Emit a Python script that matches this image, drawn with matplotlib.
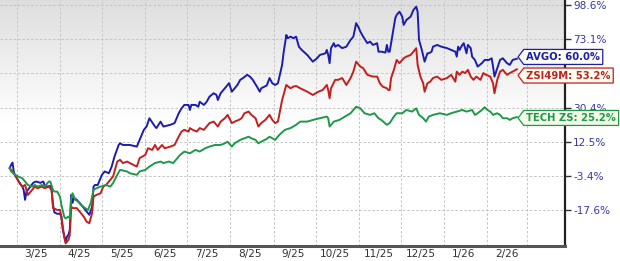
import numpy as np
import pandas as pd
import matplotlib
matplotlib.use("Agg")
import matplotlib.pyplot as plt
from matplotlib.path import Path

# ---------------- data ----------------
start_date = "2025-02-24"

avgo_days = [0, 1, 2, 3, 5, 7, 9, 10, 11, 12, 13, 16, 17, 19, 22, 24, 25, 27, 29, 30,
             31, 32, 34, 36, 37, 38, 40, 41, 42, 43, 44, 45, 46, 48, 50, 53, 55, 57, 59, 60,
             61, 63, 66, 68, 71, 73, 75, 78, 79, 81, 86, 91, 96, 98, 100, 104, 105, 108, 110, 115,
             118, 121, 123, 125, 128, 129, 130, 133, 135, 136, 139, 141, 143, 146, 148, 149, 151, 153, 155, 157,
             159, 161, 163, 165, 167, 170, 172, 174, 177, 179, 180, 184, 186, 188, 190, 192, 195, 196, 198, 199,
             201, 203, 205, 207, 209, 213, 215, 217, 220, 222, 226, 227, 228, 229, 230, 232, 233, 235, 238, 241,
             244, 246, 248, 250, 251, 253, 256, 258, 260, 263, 264, 266, 269, 270, 271, 272, 275, 276, 277, 279,
             281, 282, 284, 287, 289, 291, 292, 293, 295, 297, 299, 300, 302, 303, 306, 309, 313, 316, 319, 320,
             321, 322, 324, 325, 327, 328, 330, 331, 333, 335, 338, 340, 343, 345, 346, 347, 349, 351, 353, 356,
             358, 360, 363]
avgo_pct = [0.0, 1.5, 2.5, -2.1, -4.3, -6.5, -8.1, -9.5, -13.6, -10.2, -9.5, -7.1, -6.4, -5.9, -6.5, -5.9, -7.4, -8.1, -7.8, -9.5,
            -15.6, -18.6, -19.1, -19.1, -20.3, -25.2, -29.4, -27.6, -27.0, -25.2, -11.6, -14.8, -12.8, -13.6, -14.8, -16.8, -18.2, -19.5, -16.3, -8.1,
            -7.4, -7.4, -3.0, -1.5, -2.3, 0.7, 5.3, 10.9, 11.7, 10.9, 10.9, 10.1, 18.5, 20.2, 24.6, 20.2, 19.4, 22.8, 20.2, 21.1,
            22.0, 27.3, 30.0, 31.9, 31.9, 29.1, 31.9, 31.9, 30.9, 33.7, 31.9, 33.7, 36.6, 38.6, 37.6, 34.7, 38.6, 40.5, 42.5, 44.6,
            39.5, 41.5, 43.5, 46.6, 47.7, 49.7, 48.6, 46.6, 42.5, 39.5, 41.5, 43.2, 47.7, 44.5, 43.5, 44.5, 56.0, 63.6, 76.3, 74.0,
            75.1, 74.0, 75.1, 68.1, 65.9, 62.5, 60.3, 58.1, 60.3, 62.5, 63.6, 65.9, 62.5, 57.1, 67.1, 70.5, 68.1, 69.3, 67.1, 68.1,
            72.8, 75.1, 84.9, 81.2, 78.7, 75.1, 70.5, 71.6, 69.3, 70.5, 64.7, 64.7, 64.1, 69.3, 64.7, 64.7, 82.4, 88.6, 91.1, 93.6,
            89.8, 83.6, 87.3, 89.8, 94.9, 97.5, 93.6, 72.8, 65.9, 58.1, 63.6, 63.6, 64.7, 68.1, 69.3, 68.1, 67.1, 65.9, 64.7, 61.4,
            68.1, 65.9, 69.3, 70.5, 63.6, 69.3, 67.1, 61.4, 59.2, 54.9, 57.1, 59.2, 59.2, 60.3, 54.9, 48.6, 53.9, 59.2, 60.3, 57.1,
            56.0, 59.2, 60.0]

zsi_days = [0, 1, 4, 6, 9, 11, 12, 13, 14, 16, 18, 20, 23, 25, 28, 30, 31, 34, 36, 37,
            39, 40, 42, 43, 44, 45, 48, 50, 53, 55, 57, 59, 60, 62, 65, 67, 69, 72, 74, 77,
            79, 81, 84, 86, 91, 93, 97, 99, 102, 104, 106, 109, 111, 115, 118, 121, 123, 125, 128, 129,
            131, 134, 136, 139, 141, 143, 146, 148, 149, 151, 154, 156, 159, 161, 164, 166, 168, 171, 173, 176,
            178, 180, 183, 186, 188, 190, 192, 195, 197, 198, 201, 203, 205, 208, 213, 217, 221, 224, 227, 228,
            229, 230, 233, 235, 238, 241, 244, 246, 248, 251, 253, 256, 260, 263, 265, 267, 270, 271, 272, 273,
            275, 277, 279, 282, 284, 287, 289, 291, 292, 294, 296, 297, 299, 301, 303, 306, 309, 313, 316, 319,
            320, 322, 324, 326, 328, 330, 332, 334, 337, 339, 341, 344, 346, 347, 349, 351, 353, 356, 358, 360,
            363]
zsi_pct = [0.0, -0.8, -3.4, -5.5, -8.1, -7.4, -9.5, -11.6, -10.9, -9.5, -8.1, -8.8, -8.1, -8.8, -8.1, -9.5, -16.9, -17.6, -17.6, -20.2,
           -27.6, -30.0, -28.8, -27.0, -16.3, -16.9, -16.9, -18.2, -20.2, -22.1, -22.7, -18.8, -12.3, -11.6, -10.9, -8.1, -7.4, -5.2, -3.7, 3.0,
           3.8, 2.3, 3.0, 2.3, 0.7, 4.6, 6.1, 9.3, 8.5, 10.9, 8.5, 10.9, 9.3, 10.1, 10.9, 15.1, 17.6, 18.5, 17.6, 19.4,
           18.5, 17.6, 19.4, 18.5, 20.2, 22.0, 22.8, 21.1, 20.2, 22.8, 24.6, 26.4, 22.0, 22.8, 23.7, 24.6, 27.3, 28.2, 26.4, 24.6,
           20.2, 22.0, 23.7, 26.4, 23.7, 22.0, 22.8, 34.7, 40.5, 43.5, 41.5, 42.5, 42.9, 41.5, 39.5, 37.6, 39.5, 40.5, 43.5, 40.5,
           35.7, 41.5, 46.6, 46.6, 47.7, 43.5, 47.7, 51.7, 58.1, 54.9, 53.9, 49.7, 48.6, 48.6, 44.5, 42.5, 41.5, 40.5, 40.5, 47.7,
           52.8, 59.2, 57.1, 60.3, 61.4, 62.5, 64.7, 67.1, 56.0, 48.6, 44.5, 39.5, 44.5, 45.5, 47.7, 48.6, 46.6, 47.7, 49.7, 45.5,
           51.7, 49.7, 51.7, 50.8, 52.8, 48.6, 46.6, 48.6, 46.6, 50.8, 49.7, 48.6, 44.5, 38.6, 46.6, 51.7, 52.8, 49.7, 50.8, 51.7,
           53.2]

tech_days = [0, 1, 4, 6, 9, 10, 13, 16, 18, 20, 23, 25, 28, 29, 31, 32, 34, 36, 37, 39,
             40, 42, 43, 44, 45, 47, 49, 51, 54, 56, 58, 60, 62, 65, 69, 72, 74, 77, 79, 84,
             86, 91, 93, 97, 100, 104, 108, 110, 114, 117, 122, 125, 129, 133, 136, 140, 143, 147, 151, 154,
             156, 159, 161, 165, 168, 171, 173, 176, 178, 180, 184, 186, 190, 193, 197, 201, 205, 208, 213, 217,
             222, 227, 228, 229, 232, 236, 240, 244, 246, 248, 251, 254, 258, 261, 264, 266, 270, 272, 275, 277,
             281, 284, 288, 291, 293, 296, 298, 300, 303, 308, 313, 316, 320, 324, 327, 331, 333, 335, 338, 340,
             342, 344, 346, 349, 351, 353, 356, 358, 360, 363]
tech_pct = [0.0, -1.5, -3.0, -3.7, -4.5, -5.2, -7.4, -8.1, -7.4, -8.1, -7.4, -8.1, -5.9, -5.9, -9.5, -10.2, -10.2, -12.3, -15.6, -20.2,
            -20.9, -20.2, -20.9, -12.9, -10.9, -13.6, -14.3, -15.6, -16.9, -17.6, -14.9, -9.5, -8.8, -8.1, -7.4, -8.1, -6.6, -3.0, -0.8, -1.5,
            -2.3, -3.0, -1.5, -0.8, 0.7, 2.3, 3.0, 2.3, 3.0, 2.3, 6.1, 7.7, 6.9, 8.5, 7.7, 9.3, 10.1, 10.9, 10.9, 11.7,
            12.5, 10.1, 11.7, 13.4, 14.2, 15.0, 14.2, 13.4, 11.7, 12.5, 13.9, 15.0, 13.4, 15.9, 18.5, 19.4, 21.1, 22.8, 22.8, 23.7,
            24.6, 25.5, 24.6, 20.2, 22.8, 23.7, 25.5, 27.3, 29.1, 30.9, 30.0, 27.3, 26.4, 27.3, 24.6, 23.7, 21.1, 22.0, 25.5, 27.3,
            27.3, 29.1, 28.2, 30.0, 26.4, 24.6, 22.8, 25.5, 26.4, 27.3, 26.4, 27.3, 28.2, 29.1, 28.2, 29.1, 26.4, 27.3, 29.1, 30.6,
            29.1, 28.2, 26.4, 27.3, 26.4, 24.6, 24.6, 23.7, 24.6, 25.2]

series_names = ["AVGO", "ZSI49M", "TECH ZS"]
series_colors = ["#1c1cb0", "#c41e1e", "#1f984a"]
label_fill = ["#fffff2", "#fffff2", "#f2fae8"]
label_dy = [1.3, -4.5, -0.6]  # points, to keep labels apart

y_ticks = [-17.6, -3.4, 12.5, 30.4, 50.7, 73.1, 98.6]
y_ticklabels = ["-17.6%", "-3.4%", "12.5%", "30.4%", "", "73.1%", "98.6%"]
x_label_months = pd.date_range("2025-03-01", "2026-02-01", freq="MS")
x_grid_months = pd.date_range("2025-03-01", "2026-03-01", freq="MS")

# ---------------- figure ----------------
fig = plt.figure(figsize=(6.2, 2.61), dpi=100)
ax = fig.add_axes([0.0, 15 / 261, 565 / 620, 246 / 261])

OFFSET = 131.9
ax.set_yscale("function", functions=(lambda v: np.log(np.asarray(v) + OFFSET),
                                     lambda u: np.exp(u) - OFFSET))
t0 = pd.Timestamp(start_date)
ax.set_xlim(t0 - pd.Timedelta(days=6.95), t0 + pd.Timedelta(days=397.5))
ax.set_ylim(-30.9, 102.8)

# background gradient (grey at top to white)
grad = np.ones((256, 1))
yy = np.linspace(1, 0, 256)
shade = np.clip((yy - 0.5) / 0.5, 0, 1)
grad[:, 0] = 1.0 - 0.13 * shade
ax.imshow(np.dstack([grad, grad, grad]), extent=[0, 1, 0, 1], transform=ax.transAxes,
          aspect="auto", zorder=0, interpolation="bilinear")

all_days = [avgo_days, zsi_days, tech_days]
all_vals = [avgo_pct, zsi_pct, tech_pct]
for days, vals, col in zip(all_days, all_vals, series_colors):
    dates = t0 + pd.to_timedelta(days, unit="D")
    ax.plot(dates, vals, color=col, lw=1.4, zorder=3, solid_joinstyle="round")


def tag_box(x0, y0, width, height, mutation_size):
    pad = 0.25 * mutation_size
    x0 -= pad
    y0 -= pad
    width += 2 * pad
    height += 2 * pad
    tip = 0.38 * height
    verts = [(x0 - tip, y0 + height / 2), (x0, y0 + height), (x0 + width, y0 + height),
             (x0 + width, y0), (x0, y0), (x0 - tip, y0 + height / 2)]
    codes = [Path.MOVETO] + [Path.LINETO] * 4 + [Path.CLOSEPOLY]
    return Path(verts, codes)


for name, days, vals, col, fill, dy in zip(series_names, all_days, all_vals,
                                            series_colors, label_fill, label_dy):
    last_date = t0 + pd.Timedelta(days=days[-1])
    ax.annotate(f"{name}: {vals[-1]:.1f}%", xy=(last_date, vals[-1]),
                xytext=(6.8, dy), textcoords="offset points", ha="left", va="center",
                fontsize=7.2, fontweight="bold", color=col, zorder=6,
                bbox=dict(boxstyle=tag_box, fc=fill, ec=col, lw=0.9))

# axes styling
for s in ["top", "left"]:
    ax.spines[s].set_visible(False)
ax.spines["right"].set_color("#222222")
ax.spines["right"].set_linewidth(1.6)
ax.spines["bottom"].set_color("#555555")
ax.spines["bottom"].set_linewidth(2.2)

ax.yaxis.tick_right()
ax.set_yticks(y_ticks)
ax.set_yticklabels(y_ticklabels)
ax.yaxis.set_minor_locator(matplotlib.ticker.NullLocator())
ax.tick_params(axis="y", which="major", direction="out", length=4, width=1,
               color="#333333", labelsize=7.6, labelcolor="#3838a8", pad=2)

ax.set_xticks(x_grid_months)
ax.set_xticklabels([""] * len(x_grid_months))
mid = [d + pd.Timedelta(days=14) for d in x_label_months]
ax.set_xticks(mid, minor=True)
ax.set_xticklabels([f"{d.month}/{d:%y}" for d in x_label_months], minor=True)
ax.tick_params(axis="x", which="both", length=0, labelsize=7.6, labelcolor="#333333", pad=2.5)

ax.grid(True, which="major", color="#c4c4c4", linestyle=(0, (2.5, 2)), linewidth=0.7, zorder=1)
ax.set_axisbelow(True)

fig.savefig("out.png", dpi=100)
